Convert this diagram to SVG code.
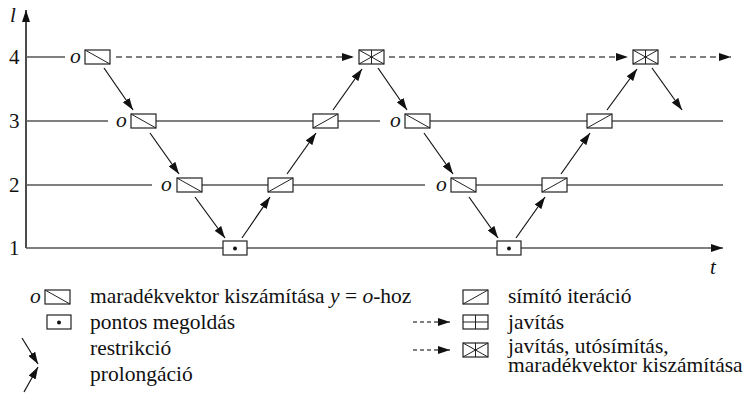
<svg xmlns="http://www.w3.org/2000/svg" width="754" height="416" viewBox="0 0 754 416" font-family="'Liberation Serif', 'DejaVu Serif', serif">
<style>
text{font-family:'Liberation Serif','DejaVu Serif',serif;fill:#111;}
.lbl{font-size:21.5px;}
.num{font-size:21px;}
.it{font-style:italic;}
.lvl{stroke:#555;stroke-width:1.5;fill:none;}
.box{fill:#fff;stroke:#222;stroke-width:1.2;}
.in{stroke:#222;stroke-width:1;fill:none;}
.arr{stroke:#111;stroke-width:1.2;fill:none;marker-end:url(#ah);}
.darr{stroke:#555;stroke-width:1.5;stroke-dasharray:6,4;fill:none;marker-end:url(#ah);}
</style>
<defs>
<marker id="ah" viewBox="0 0 12 8" refX="12" refY="4" markerWidth="12" markerHeight="8" markerUnits="userSpaceOnUse" orient="auto">
<path d="M0,0 L12,4 L0,8 Z" fill="#111"/>
</marker>
<g id="res"><rect class="box" x="0" y="0" width="25" height="14"/><line class="in" x1="0" y1="0" x2="25" y2="14"/></g>
<g id="smo"><rect class="box" x="0" y="0" width="25" height="14"/><line class="in" x1="0" y1="14" x2="25" y2="0"/></g>
<g id="sol"><rect class="box" x="0" y="0" width="24" height="14"/><circle cx="12" cy="7.5" r="2" fill="#111"/></g>
<g id="crs"><rect class="box" x="0" y="0" width="25" height="14"/><line class="in" x1="0" y1="0" x2="25" y2="14"/><line class="in" x1="0" y1="14" x2="25" y2="0"/><line class="in" x1="12.5" y1="0" x2="12.5" y2="14"/></g>
<g id="cor"><rect class="box" x="0" y="0" width="25" height="14"/><line class="in" x1="12.5" y1="0" x2="12.5" y2="14"/><line class="in" x1="0" y1="7" x2="25" y2="7"/></g>
</defs>

<g id="axes">
<line x1="26" y1="248" x2="26" y2="10" stroke="#111" stroke-width="1.5" marker-end="url(#ah)"/>
<text class="num it" x="10" y="22">l</text>
<text class="num" x="9" y="64">4</text>
<text class="num" x="9" y="128">3</text>
<text class="num" x="9" y="192">2</text>
<text class="num" x="9" y="255">1</text>
<text class="num it" x="710" y="274">t</text>
</g>

<g id="levels">
<line class="lvl" x1="26" y1="57" x2="65" y2="57"/>
<line class="lvl" x1="26" y1="121" x2="108" y2="121"/>
<line class="lvl" x1="155" y1="121" x2="380" y2="121"/>
<line class="lvl" x1="429" y1="121" x2="723" y2="121"/>
<line class="lvl" x1="26" y1="185" x2="152" y2="185"/>
<line class="lvl" x1="202" y1="185" x2="425" y2="185"/>
<line class="lvl" x1="476" y1="185" x2="723" y2="185"/>
<line x1="26" y1="248" x2="723" y2="248" stroke="#555" stroke-width="1.5" marker-end="url(#ah)"/>
</g>

<g id="connectors">
<line class="darr" x1="116" y1="57" x2="354" y2="57"/>
<line class="darr" x1="389" y1="57" x2="628" y2="57"/>
<line class="darr" x1="670" y1="57" x2="731" y2="57"/>
<line class="arr" x1="104" y1="68" x2="133" y2="110"/>
<line class="arr" x1="150" y1="133" x2="179" y2="174"/>
<line class="arr" x1="195" y1="197" x2="225" y2="238"/>
<line class="arr" x1="242" y1="238" x2="270" y2="197"/>
<line class="arr" x1="287" y1="174" x2="316" y2="133"/>
<line class="arr" x1="333" y1="110" x2="362" y2="69"/>
<line class="arr" x1="378" y1="68" x2="407" y2="110"/>
<line class="arr" x1="424" y1="133" x2="453" y2="174"/>
<line class="arr" x1="469" y1="197" x2="498" y2="238"/>
<line class="arr" x1="516" y1="238" x2="545" y2="197"/>
<line class="arr" x1="561" y1="174" x2="590" y2="133"/>
<line class="arr" x1="607" y1="110" x2="637" y2="69"/>
<line class="arr" x1="652" y1="68" x2="682" y2="110"/>
</g>

<g id="n4a"><text class="lbl it" x="70" y="63">o</text><use href="#res" x="85" y="50"/></g>
<g id="n4b"><use href="#crs" x="359" y="50"/></g>
<g id="n4c"><use href="#crs" x="633" y="50"/></g>
<g id="n3a"><text class="lbl it" x="116" y="127">o</text><use href="#res" x="131" y="114"/></g>
<g id="n3b"><use href="#smo" x="313" y="114"/></g>
<g id="n3c"><text class="lbl it" x="390" y="127">o</text><use href="#res" x="405" y="114"/></g>
<g id="n3d"><use href="#smo" x="587" y="114"/></g>
<g id="n2a"><text class="lbl it" x="161" y="191">o</text><use href="#res" x="177" y="178"/></g>
<g id="n2b"><use href="#smo" x="268" y="178"/></g>
<g id="n2c"><text class="lbl it" x="436" y="191">o</text><use href="#res" x="451" y="178"/></g>
<g id="n2d"><use href="#smo" x="542" y="178"/></g>
<g id="n1a"><use href="#sol" x="223" y="241"/></g>
<g id="n1b"><use href="#sol" x="497" y="241"/></g>

<g id="legend">
<text class="lbl it" x="30" y="303">o</text><use href="#res" x="45" y="290"/>
<text class="lbl" x="90" y="303">maradékvektor kiszámítása <tspan class="it">y</tspan> = <tspan class="it">o</tspan>-hoz</text>
<use href="#sol" x="47" y="315"/>
<text class="lbl" x="90" y="329">pontos megoldás</text>
<line class="arr" x1="22" y1="338" x2="38" y2="364"/>
<text class="lbl" x="90" y="355">restrikció</text>
<line class="arr" x1="24" y1="392" x2="38" y2="367"/>
<text class="lbl" x="90" y="381">prolongáció</text>
<use href="#smo" x="463" y="290"/>
<text class="lbl" x="508" y="303">símító iteráció</text>
<line class="darr" x1="413" y1="322" x2="450" y2="322" style="stroke-dasharray:4,3"/>
<use href="#cor" x="463" y="315"/>
<text class="lbl" x="508" y="329">javítás</text>
<line class="darr" x1="413" y1="350" x2="450" y2="350" style="stroke-dasharray:4,3"/>
<use href="#crs" x="463" y="343"/>
<text class="lbl"><tspan x="508" y="353">javítás, utósímítás,</tspan><tspan x="508" y="372">maradékvektor kiszámítása</tspan></text>
</g>
</svg>
